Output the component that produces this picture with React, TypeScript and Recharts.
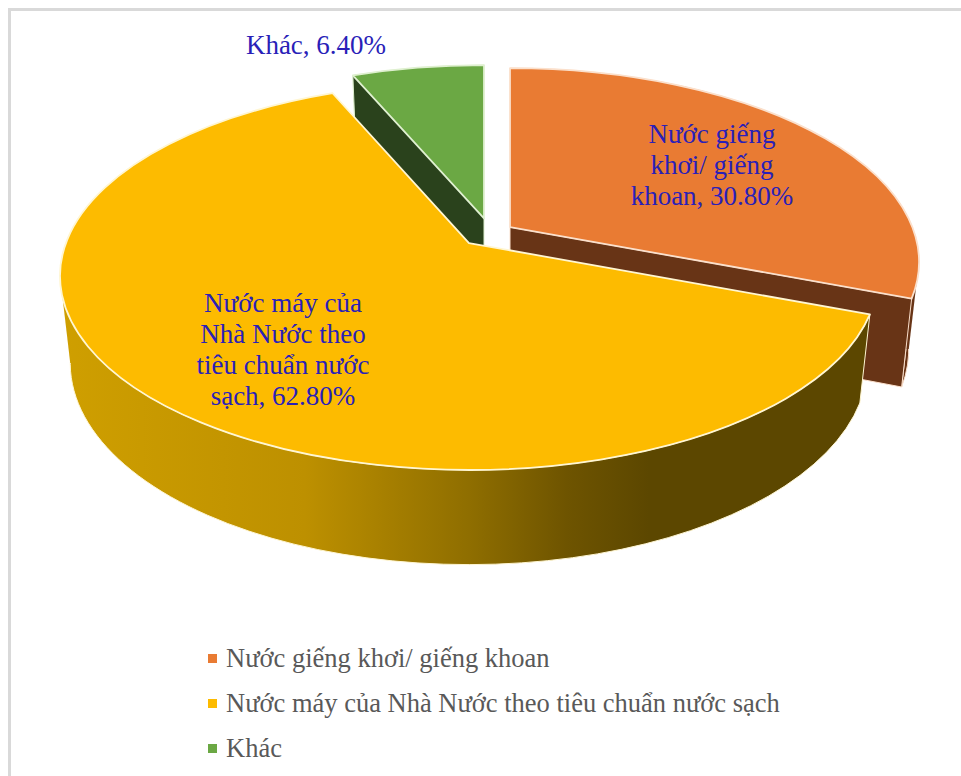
import { Legend, Pie, PieChart } from "recharts";

const categories = ["Nước giếng khơi/ giếng khoan", "Nước máy của Nhà Nước theo tiêu chuẩn nước sạch", "Khác"];
const shares = [30.8, 62.8, 6.4];
const labelLines = [
  ["Nước giếng", "khơi/ giếng", "khoan"],
  ["Nước máy của", "Nhà Nước theo", "tiêu chuẩn nước", "sạch"],
  ["Khác"],
];

const data = categories.map((name, i) => ({ name, value: shares[i] }));

const TOP_COLORS = ["#e97b33", "#fdbb00", "#6ba844"];
const RIM_COLORS = ["#fbe0cc", "#fff6d2", "#dff0d0"];
const WALL_COLORS = ["#683416", "url(#frontWall)", "#2a421c"];
// which straight cut of each slice shows its wall
const CUT_WALLS = ["end", null, "start"];
// which side of the pie each slice forms the outline of (1 right, -1 left)
const OUTLINE_SIDE = [1, -1, 0];
// slices pulled out of the pie, from the pie's centre
const EXPLODE = [
  { x: 41, y: -14 },
  { x: 0, y: 0 },
  { x: 15, y: -17 },
];
// how far each hub sits behind its ellipse centre, as a share of the short radius
const HUB_BIAS = [0.18, 0.17, 0.21];
const LABEL_SPOTS = [
  { x: 712, y: 143 },
  { x: 283, y: 312 },
  { x: 316, y: 54 },
];

const PIE_X = 469;
const PIE_Y = 276;
const RADIUS = 409;
const SQUASH = 0.474;
const DEPTH = 87;
const FLOOR_X = 0.975;
const FLOOR_Y = 1.04;

type Pt = { x: number; y: number };

function rimPoint(clockDeg: number, bias: number, ex: number, ey: number, rx: number, ry: number): Pt {
  const th = (clockDeg * Math.PI) / 180;
  const c = Math.cos(th);
  const s = Math.sin(th);
  const w = 1 + bias * c;
  const ct = (c + bias) / w;
  const st = (s * Math.sqrt(1 - bias * bias)) / w;
  return { x: ex + rx * st, y: ey - ry * ct };
}

function SliceShape(props: any, layer: number[]) {
  const { index, startAngle, endAngle, cx, cy, outerRadius } = props;
  if (!layer.includes(index)) return <g />;
  const a0 = 90 - startAngle;
  const a1 = 90 - endAngle;
  const ex = cx + EXPLODE[index].x;
  const ey = cy + EXPLODE[index].y;
  const rx = outerRadius;
  const ry = outerRadius * SQUASH;
  const bias = HUB_BIAS[index];
  const floor = (p: Pt): Pt => ({
    x: ex + (p.x - ex) * FLOOR_X,
    y: ey + (p.y - ey) * FLOOR_Y + DEPTH,
  });
  const p0 = rimPoint(a0, bias, ex, ey, rx, ry);
  const p1 = rimPoint(a1, bias, ex, ey, rx, ry);
  const hub = { x: ex, y: ey - ry * bias };
  const big = a1 - a0 > 180 ? 1 : 0;
  const f0 = floor(p0);
  const f1 = floor(p1);
  const fh = floor(hub);
  const fr = `${rx * FLOOR_X} ${ry * FLOOR_Y}`;
  const topArc = `A ${rx} ${ry} 0 ${big} 1 ${p1.x} ${p1.y}`;
  const cut = CUT_WALLS[index];
  const cutEnd = cut === "end" ? p1 : p0;
  const cutFloor = cut === "end" ? f1 : f0;
  const side = OUTLINE_SIDE[index];
  const rim = RIM_COLORS[index];
  const wall = WALL_COLORS[index];

  return (
    <g>
      <defs>
        <linearGradient id="frontWall" gradientUnits="userSpaceOnUse" x1={cx - rx} x2={cx + rx} y1={0} y2={0}>
          <stop offset="0" stopColor="#cf9f00" />
          <stop offset="0.3" stopColor="#bd9000" />
          <stop offset="0.5" stopColor="#8f6e00" />
          <stop offset="0.62" stopColor="#6e5400" />
          <stop offset="0.72" stopColor="#5c4700" />
          <stop offset="1" stopColor="#5c4700" />
        </linearGradient>
      </defs>
      <path
        d={`M ${p0.x} ${p0.y} ${topArc} L ${f1.x} ${f1.y} A ${fr} 0 ${big} 0 ${f0.x} ${f0.y} Z`}
        fill={wall}
        stroke={rim}
        strokeWidth={1}
      />
      {side !== 0 && (
        <path
          d={`M ${ex + side * rx} ${ey} L ${ex + side * rx * FLOOR_X} ${ey + DEPTH} L ${ex} ${ey + DEPTH} L ${ex} ${ey} Z`}
          fill={wall}
        />
      )}
      {cut && (
        <path
          d={`M ${hub.x} ${hub.y} L ${cutEnd.x} ${cutEnd.y} L ${cutFloor.x} ${cutFloor.y} L ${fh.x} ${fh.y} Z`}
          fill={wall}
          stroke={rim}
          strokeWidth={1}
        />
      )}
      <path
        d={`M ${hub.x} ${hub.y} L ${p0.x} ${p0.y} ${topArc} Z`}
        fill={TOP_COLORS[index]}
        stroke={rim}
        strokeWidth={1.8}
        strokeLinejoin="round"
      />
    </g>
  );
}

function SliceLabel(props: any) {
  const { index } = props;
  const lines = labelLines[index];
  const spot = LABEL_SPOTS[index];
  return (
    <text
      x={spot.x}
      y={spot.y}
      textAnchor="middle"
      fill="#2a1fb8"
      fontFamily="'Liberation Serif', serif"
      fontSize={27}
    >
      {lines.map((line, i) => (
        <tspan key={line} x={spot.x} dy={i === 0 ? 0 : 31}>
          {i === lines.length - 1 ? `${line}, ${shares[index].toFixed(2)}%` : line}
        </tspan>
      ))}
    </text>
  );
}

function KeyList() {
  return (
    <div style={{ fontFamily: "'Liberation Serif', serif", fontSize: 26.5, color: "#595959" }}>
      {categories.map((name, i) => (
        <div key={name} style={{ display: "flex", alignItems: "center", height: 45 }}>
          <span style={{ width: 9, height: 9, marginRight: 9, background: TOP_COLORS[i] }} />
          {name}
        </div>
      ))}
    </div>
  );
}

export default function App() {
  const pieProps = {
    data,
    dataKey: "value",
    nameKey: "name",
    cx: PIE_X,
    cy: PIE_Y,
    outerRadius: RADIUS,
    startAngle: 90,
    endAngle: -270,
    stroke: "none",
    isAnimationActive: false,
  };
  return (
    <div
      style={{
        position: "absolute",
        left: 0,
        top: 0,
        width: 961,
        height: 776,
        overflow: "hidden",
        background: "#fff",
      }}
    >
      <div
        style={{
          position: "absolute",
          left: 8,
          top: 8,
          width: 953,
          height: 768,
          borderLeft: "3px solid #d9d9d9",
          borderTop: "3px solid #d9d9d9",
        }}
      />
      <PieChart
        width={961}
        height={776}
        margin={{ top: 0, right: 0, bottom: 0, left: 0 }}
        style={{ position: "absolute", left: 0, top: 0 }}
      >
        {/* the large slice goes second so its top covers the walls behind it */}
        <Pie {...pieProps} shape={(p: any) => SliceShape(p, [0, 2])} label={false} labelLine={false} />
        <Pie {...pieProps} shape={(p: any) => SliceShape(p, [1])} label={SliceLabel} labelLine={false} />
        {/* bottom alignment keeps the legend out of the pie's left and top offsets */}
        <Legend
          layout="horizontal"
          align="left"
          verticalAlign="bottom"
          content={<KeyList />}
          wrapperStyle={{ left: 208, top: 636, bottom: "auto", width: 700 }}
        />
      </PieChart>
    </div>
  );
}
